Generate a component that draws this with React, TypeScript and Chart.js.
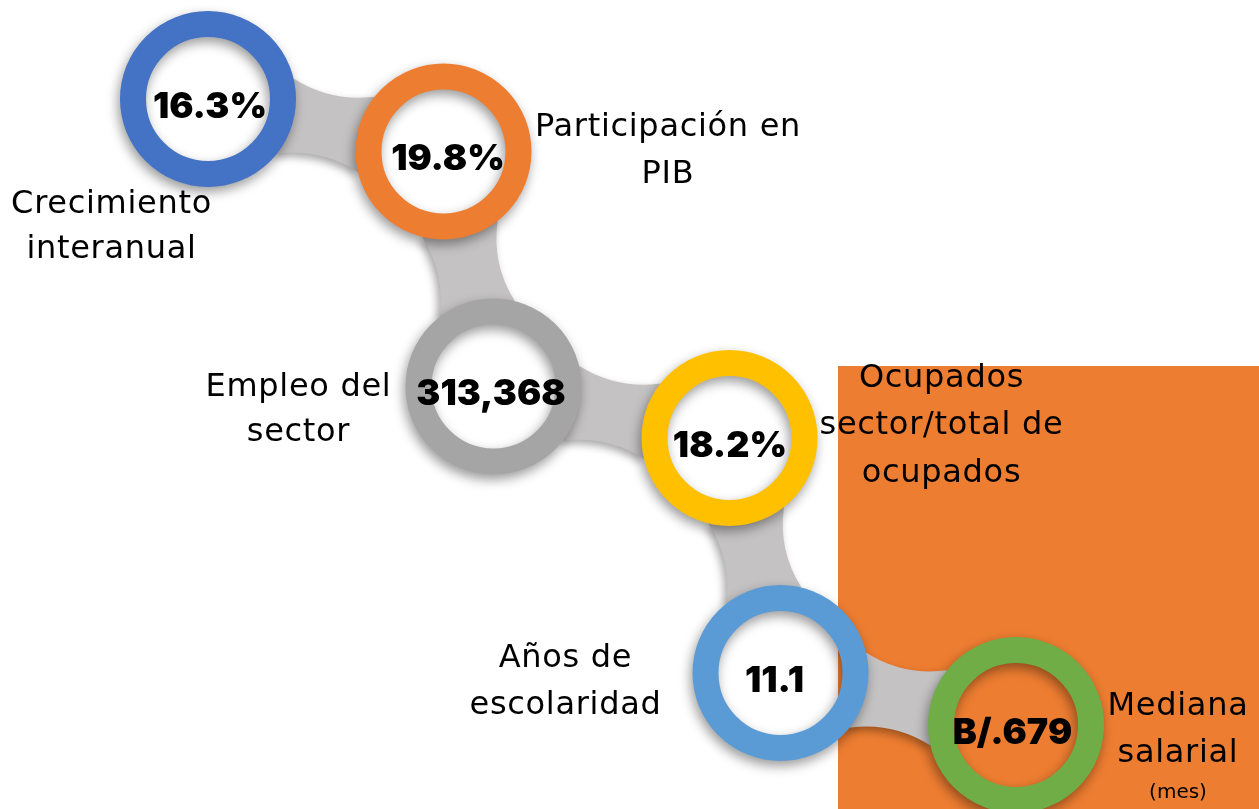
import React, { useEffect, useRef } from "react";
import { Chart, registerables } from "chart.js";

Chart.register(...registerables);

// ---- data ----
const categories = [
  "Crecimiento interanual",
  "Participación en PIB",
  "Empleo del sector",
  "Ocupados sector/total de ocupados",
  "Años de escolaridad",
  "Mediana salarial",
];
const valueLabels = ["16.3%", "19.8%", "313,368", "18.2%", "11.1", "B/.679"];
const labelLines = [
  ["Crecimiento", "interanual"],
  ["Participación en", "PIB"],
  ["Empleo del", "sector"],
  ["Ocupados", "sector/total de", "ocupados"],
  ["Años de", "escolaridad"],
  ["Mediana", "salarial"],
];
const labelNotes = ["", "", "", "", "", "(mes)"];
// node positions on the infographic's path (data units)
const nodeX = [208, 443.5, 493.5, 729.5, 780.5, 1016];
const nodeY = [99, 151.5, 386.5, 438, 673, 725];

// ---- styles / layout ----
const ringColors = ["#4472C4", "#ED7D31", "#A5A5A5", "#FFC000", "#5B9BD5", "#70AD47"];
const W = 1259;
const H = 809;
const OUTER_R = 88;
const RING_W = 26;
const CONNECTOR_HALF = 31;
const CONNECTOR_ANGLE = (26 * Math.PI) / 180;
const CONNECTOR_COLOR = "#c4c2c3";
const PANEL = { x0: 838, y0: 366, x1: 1259, y1: 809, color: "#ED7D31" };
const labelDX = [-96.5, 224.5, -195, 212, -215, 162];
const labelDY = [113.7, -15.5, 9.2, -51.3, -6.3, -10];
const labelLineGap = [45.5, 46.5, 45.5, 47.5, 47.5, 46.5];
const valueDX = [2, 4.5, -2.5, 0.5, -6, -3.5];
const LABEL_FONT = "32px 'DejaVu Sans'";
const LABEL_SPACING = "0.7px";
const NOTE_FONT = "20px 'DejaVu Sans'";
const VALUE_FONT = "900 36px Inter";

const infographicPlugin = {
  id: "infographic",
  beforeDatasetsDraw(chart: any) {
    const { ctx, scales } = chart;
    const xs = scales.x;
    const ys = scales.y;
    // background panel
    const px0 = xs.getPixelForValue(PANEL.x0);
    const px1 = xs.getPixelForValue(PANEL.x1);
    const py0 = ys.getPixelForValue(PANEL.y0);
    const py1 = ys.getPixelForValue(PANEL.y1);
    ctx.save();
    ctx.fillStyle = PANEL.color;
    ctx.fillRect(px0, py0, px1 - px0, py1 - py0);
    ctx.restore();

    // connectors between consecutive nodes (slightly concave bridges)
    const pts = nodeX.map((x, i) => ({ x: xs.getPixelForValue(x), y: ys.getPixelForValue(nodeY[i]) }));
    ctx.save();
    ctx.fillStyle = CONNECTOR_COLOR;
    ctx.shadowColor = "rgba(0,0,0,0.35)";
    ctx.shadowBlur = 9;
    ctx.shadowOffsetX = -3;
    ctx.shadowOffsetY = 4;
    const r = OUTER_R;
    const ca = Math.cos(CONNECTOR_ANGLE);
    const sa = Math.sin(CONNECTOR_ANGLE);
    for (let i = 0; i < pts.length - 1; i++) {
      const A = pts[i];
      const B = pts[i + 1];
      const dx = B.x - A.x;
      const dy = B.y - A.y;
      const D = Math.hypot(dx, dy);
      const ux = dx / D;
      const uy = dy / D;
      const nx = -uy;
      const ny = ux;
      const M = { x: (A.x + B.x) / 2, y: (A.y + B.y) / 2 };
      const q = 2 * CONNECTOR_HALF - r * sa;
      const edge = (s: number) => ({
        p0: { x: A.x + r * (ca * ux + s * sa * nx), y: A.y + r * (ca * uy + s * sa * ny) },
        p2: { x: B.x + r * (-ca * ux + s * sa * nx), y: B.y + r * (-ca * uy + s * sa * ny) },
        c: { x: M.x + s * q * nx, y: M.y + s * q * ny },
      });
      const e1 = edge(1);
      const e2 = edge(-1);
      ctx.beginPath();
      ctx.moveTo(e1.p0.x, e1.p0.y);
      ctx.quadraticCurveTo(e1.c.x, e1.c.y, e1.p2.x, e1.p2.y);
      ctx.lineTo(e2.p2.x, e2.p2.y);
      ctx.quadraticCurveTo(e2.c.x, e2.c.y, e2.p0.x, e2.p0.y);
      ctx.closePath();
      ctx.fill();
    }
    ctx.restore();
  },
  beforeDatasetDraw(chart: any) {
    const ctx = chart.ctx;
    ctx.save();
    ctx.shadowColor = "rgba(0,0,0,0.4)";
    ctx.shadowBlur = 12;
    ctx.shadowOffsetX = -2;
    ctx.shadowOffsetY = 5;
  },
  afterDatasetDraw(chart: any) {
    chart.ctx.restore();
  },
  afterDatasetsDraw(chart: any) {
    const { ctx, scales } = chart;
    const xs = scales.x;
    const ys = scales.y;
    ctx.save();
    ctx.fillStyle = "#000";
    ctx.textAlign = "center";
    ctx.textBaseline = "alphabetic";
    nodeX.forEach((x, i) => {
      const cx = xs.getPixelForValue(x);
      const cy = ys.getPixelForValue(nodeY[i]);
      // value
      ctx.font = VALUE_FONT;
      (ctx as any).letterSpacing = "0px";
      ctx.fillText(valueLabels[i], cx + valueDX[i], cy + 18.5);
      // label
      ctx.font = LABEL_FONT;
      (ctx as any).letterSpacing = LABEL_SPACING;
      const lines = labelLines[i];
      const lx = cx + labelDX[i];
      const ly = cy + labelDY[i];
      lines.forEach((ln, j) => {
        ctx.fillText(ln, lx, ly + j * labelLineGap[i]);
      });
      if (labelNotes[i]) {
        ctx.font = NOTE_FONT;
        (ctx as any).letterSpacing = "0px";
        ctx.fillText(labelNotes[i], lx, ly + (lines.length - 1) * labelLineGap[i] + 36);
      }
    });
    ctx.restore();
  },
};

export default function App() {
  const ref = useRef<HTMLCanvasElement | null>(null);
  useEffect(() => {
    document.body.style.margin = "0";
    const canvas = ref.current;
    if (!canvas) return;
    const chart = new Chart(canvas, {
      type: "scatter",
      data: {
        labels: categories,
        datasets: [
          {
            label: "Indicadores",
            data: nodeX.map((x, i) => ({ x, y: nodeY[i] })),
            pointRadius: OUTER_R - RING_W / 2,
            pointHoverRadius: OUTER_R - RING_W / 2,
            pointBorderWidth: RING_W,
            pointHoverBorderWidth: RING_W,
            pointBorderColor: ringColors,
            pointBackgroundColor: "rgba(0,0,0,0)",
            showLine: false,
            clip: false as any,
          },
        ],
      },
      options: {
        animation: false,
        responsive: false,
        events: [],
        layout: { padding: 0, autoPadding: false },
        plugins: { legend: { display: false }, tooltip: { enabled: false } },
        scales: {
          x: { type: "linear", min: 0, max: W, display: false },
          y: { type: "linear", min: 0, max: H, reverse: true, display: false },
        },
      },
      plugins: [infographicPlugin],
    });
    return () => chart.destroy();
  }, []);
  return (
    <div style={{ width: W, height: H, position: "relative", background: "#fff" }}>
      <canvas ref={ref} width={W} height={H} style={{ display: "block" }} />
    </div>
  );
}
